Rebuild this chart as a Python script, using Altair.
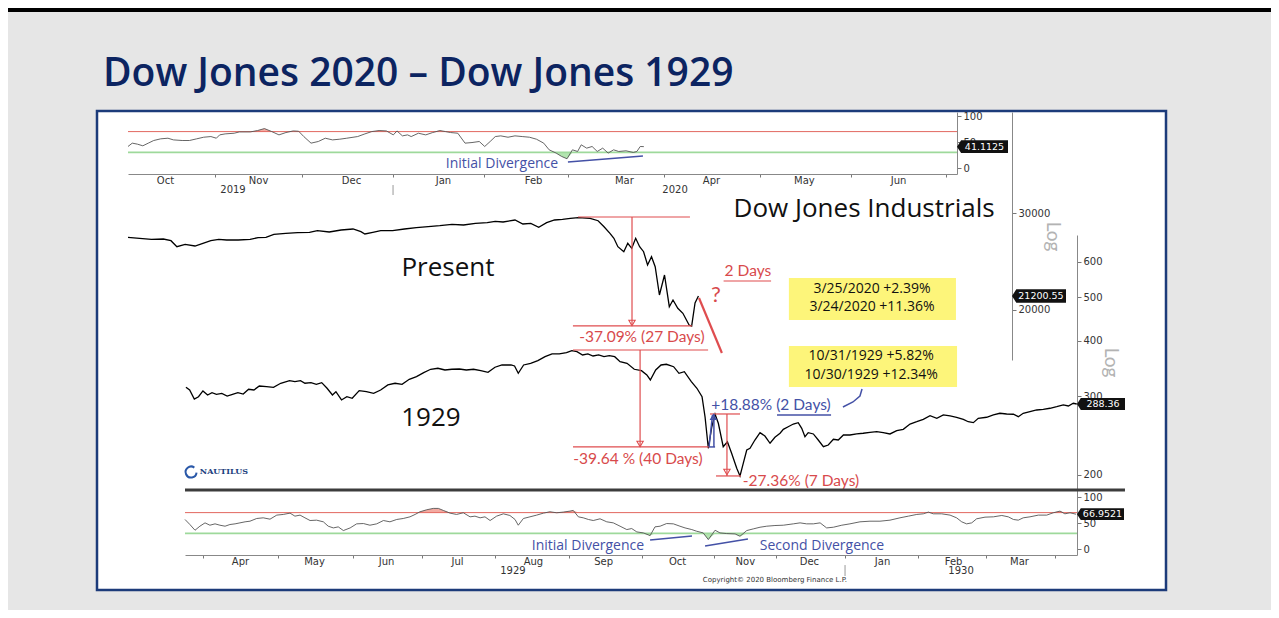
import altair as alt
import pandas as pd

TITLE = "Dow Jones 2020 \u2013 Dow Jones 1929"

# ---- time bases: every day count below is measured from these dates ----
BASE_OSC20 = "2019-10-04"   # top oscillator (2019-2020)
BASE_DOW20 = "2019-09-06"   # 2020 Dow line (overlaid)
BASE_1929 = "1929-03-22"    # 1929 Dow line and bottom oscillator

# ---- top oscillator 2019/2020 ----
rsi20_days = [0, 1.4, 3.1, 4.9, 6.7, 8.5, 10.8, 13.2, 15.0, 17.9,
              20.3, 22.7, 25.0, 27.4, 29.2, 30.3, 32.1, 35.1, 36.8, 40.4,
              42.8, 45.1, 47.5, 49.9, 52.2, 54.6, 56.4, 58.1, 60.5, 62.9,
              65.2, 67.6, 70.0, 72.3, 75.9, 78.3, 80.6, 83.0, 85.4, 87.7,
              88.9, 90.7, 92.4, 93.6, 96.0, 98.4, 100.7, 103.1, 104.9, 106.6,
              109.0, 111.4, 113.7, 116.1, 117.9, 119.7, 121.4, 123.2, 125.6, 127.9,
              130.3, 132.7, 135.0, 137.4, 139.2, 141.5, 143.3, 145.1, 146.9, 148.6,
              149.8, 151.6, 153.4, 155.1, 156.9, 158.7, 160.5, 162.2, 164.6, 167.0,
              168.2, 169.3, 170.5]
rsi20_vals = [41.4, 47.8, 45.9, 42.7, 47.8, 52.9, 56.1, 57.3, 54.1, 52.9,
              52.9, 56.1, 59.2, 60.5, 57.3, 63.7, 65.6, 66.9, 69.4, 69.4,
              72.0, 75.8, 70.1, 63.7, 68.2, 71.3, 70.7, 60.5, 47.8, 51.0,
              57.3, 54.1, 55.4, 57.3, 60.5, 65.6, 70.1, 72.0, 71.3, 63.7,
              71.3, 61.8, 63.7, 60.5, 66.9, 63.7, 68.2, 72.0, 70.1, 68.2,
              66.9, 47.8, 49.0, 51.0, 41.4, 51.0, 60.5, 61.8, 59.2, 61.8,
              60.5, 59.2, 55.4, 47.8, 35.0, 28.7, 22.3, 17.8, 35.0, 31.8,
              44.6, 38.2, 41.4, 31.8, 38.2, 28.7, 35.0, 31.8, 33.1, 29.9,
              31.8, 41.4, 41.1125]

# ---- Dow Jones 2019/2020 ----
dow20_days = [0, 4.1, 8.3, 12.5, 15.2, 17.3, 20.2, 23.7, 26.5, 29.3,
              32.1, 34.9, 39.0, 43.2, 46.0, 48.8, 51.6, 55.8, 60.0, 64.2,
              67.0, 71.2, 75.4, 79.6, 82.4, 83.8, 86.6, 89.4, 93.6, 97.8,
              102.0, 106.2, 110.3, 114.6, 118.7, 122.9, 127.1, 129.9, 132.7, 136.9,
              139.7, 142.5, 145.3, 148.1, 150.9, 153.7, 156.5, 159.3, 163.5, 166.3,
              168.4, 170.5, 171.9, 173.3, 175.4, 176.8, 178.2, 179.6, 181.0, 182.4,
              183.8, 185.2, 186.5, 188.0, 189.8, 191.5, 192.8, 194.5, 196.3, 198.5,
              199.4, 200.6, 201.8]
dow20_vals = [27100, 26985, 26873, 26907, 26717, 26055, 26316, 26131, 26427, 26717,
              26873, 26797, 26797, 26873, 27054, 27100, 27441, 27558, 27627, 27673,
              27858, 27708, 27939, 28058, 27741, 27477, 27673, 27858, 27858, 28058,
              28209, 28328, 28448, 28614, 28531, 28735, 28807, 28976, 28891, 29134,
              28650, 28735, 28258, 28807, 29134, 29221, 29343, 29416, 29343, 29049,
              28328, 27558, 26985, 26055, 25514, 26427, 25881, 26985, 26055, 25514,
              24135, 24987, 23964, 21288, 23145, 20271, 20847, 20136, 19719, 18777,
              18698, 20586, 21200.55]

# ---- Dow Jones 1929/1930 ----
dow29_days = [0.4, 2.0, 4.0, 5.8, 7.7, 9.7, 11.6, 13.5, 15.8, 18.1,
              20.4, 22.7, 25.0, 27.3, 29.6, 31.9, 35.0, 38.0, 41.1, 44.9,
              47.2, 49.6, 51.5, 54.1, 56.4, 58.7, 61.0, 63.3, 64.8, 67.2,
              69.5, 71.8, 74.8, 77.9, 81.0, 84.0, 87.1, 90.2, 93.2, 96.3,
              99.4, 102.5, 105.5, 108.6, 111.6, 114.6, 117.8, 120.8, 123.9, 127.0,
              130.1, 133.1, 136.1, 140.0, 141.5, 143.1, 145.4, 148.4, 151.5, 154.6,
              157.6, 160.7, 163.8, 166.1, 168.3, 170.7, 173.0, 175.2, 177.6, 179.9,
              182.2, 184.5, 186.8, 189.8, 192.9, 196.0, 198.3, 199.8, 202.1, 204.4,
              206.7, 209.8, 212.1, 214.4, 217.4, 219.8, 222.0, 223.3, 224.7, 226.2,
              227.6, 229.0, 231.1, 232.9, 234.7, 236.9, 238.3, 239.7, 241.2, 242.6,
              244.7, 246.9, 249.0, 251.2, 253.3, 255.5, 256.9, 259.0, 261.2, 263.3,
              264.8, 266.2, 267.6, 269.8, 271.9, 274.1, 276.2, 278.4, 280.5, 282.7,
              285.5, 288.4, 291.2, 294.1, 297.0, 299.8, 302.7, 305.6, 308.4, 311.3,
              314.2, 317.0, 319.9, 322.8, 325.6, 328.5, 331.3, 334.2, 336.3, 338.5,
              340.6, 344.2, 347.1, 349.9, 352.8, 355.7, 357.8, 359.9, 362.8, 365.7,
              368.5, 371.4, 374.3, 377.1, 379.3, 381.4, 382.9]
dow29_vals = [314.3, 310.0, 295.9, 299.4, 308.4, 302.1, 305.7, 303.2, 304.7, 300.5,
              303.2, 305.7, 303.6, 311.1, 310.0, 316.4, 315.3, 314.3, 320.9, 325.2,
              323.5, 325.2, 320.9, 321.9, 319.2, 321.9, 312.7, 302.1, 307.3, 294.4,
              299.4, 297.0, 308.9, 307.3, 304.7, 310.0, 318.1, 320.9, 319.2, 327.5,
              332.0, 338.9, 344.9, 346.7, 343.6, 344.9, 345.4, 343.6, 344.9, 342.4,
              339.6, 348.5, 352.6, 352.6, 350.8, 337.8, 352.6, 355.7, 360.5, 368.0,
              373.2, 373.2, 375.7, 379.6, 377.6, 371.3, 373.2, 369.3, 371.3, 368.0,
              369.9, 368.0, 358.6, 355.7, 344.9, 342.4, 334.9, 326.4, 343.6, 352.6,
              353.9, 349.5, 337.8, 340.6, 323.5, 312.7, 299.4, 269.7, 229.5, 256.5,
              273.5, 261.1, 231.4, 237.4, 223.7, 207.0, 199.0, 212.4, 227.5, 229.5,
              239.5, 248.7, 244.5, 235.5, 242.9, 248.0, 253.1, 256.5, 260.1, 261.9,
              254.4, 243.7, 248.7, 247.1, 239.5, 231.4, 233.4, 240.4, 239.5, 245.8,
              245.8, 247.1, 248.0, 249.2, 250.0, 248.7, 247.1, 251.3, 253.1, 260.1,
              263.2, 266.5, 271.5, 267.9, 272.5, 271.1, 269.3, 266.5, 263.2, 261.9,
              267.9, 269.3, 272.5, 274.9, 273.9, 273.5, 270.1, 274.9, 277.2, 279.6,
              280.6, 282.1, 284.4, 286.9, 285.4, 289.4, 288.36]

# ---- bottom oscillator 1929/1930 ----
rsi29_days = [0, 2.1, 4.3, 6.4, 8.6, 10.7, 12.9, 15.0, 17.2, 19.3,
              21.5, 23.6, 25.8, 27.9, 30.8, 33.6, 36.5, 39.4, 42.2, 45.1,
              47.2, 49.4, 51.5, 53.7, 56.5, 59.4, 61.5, 63.7, 65.8, 68.0,
              70.9, 73.7, 76.6, 79.4, 82.3, 85.2, 88.0, 90.9, 93.7, 96.6,
              98.8, 100.9, 103.8, 106.6, 108.8, 110.9, 113.8, 116.6, 119.5, 122.4,
              124.5, 126.7, 128.8, 131.0, 133.8, 136.7, 139.5, 141.7, 143.1, 145.3,
              148.1, 151.0, 153.9, 156.7, 159.6, 162.4, 165.3, 166.7, 168.9, 171.0,
              173.2, 175.3, 178.2, 181.1, 183.9, 186.8, 189.7, 191.8, 194.0, 196.8,
              199.7, 201.8, 204.0, 206.8, 209.7, 212.5, 214.7, 217.6, 219.7, 222.5,
              224.7, 227.6, 229.7, 232.6, 236.2, 238.3, 241.2, 244.0, 246.9, 249.8,
              253.3, 256.9, 261.2, 264.1, 266.9, 269.8, 272.7, 275.5, 278.4, 282.0,
              285.5, 289.8, 294.1, 298.4, 302.7, 307.0, 310.6, 314.2, 317.0, 319.2,
              321.3, 324.9, 328.5, 331.3, 333.5, 335.6, 337.8, 339.9, 343.5, 347.1,
              350.7, 353.5, 355.7, 357.8, 359.9, 362.8, 366.4, 370.0, 372.8, 375.7,
              377.8, 380.0, 382.6]
rsi29_vals = [56.8, 47.1, 36.1, 43.9, 50.3, 45.8, 48.4, 45.8, 43.9, 47.1,
              48.4, 50.3, 52.3, 53.5, 58.7, 60.0, 57.4, 65.2, 66.5, 69.0,
              63.2, 65.2, 60.0, 54.8, 55.5, 52.3, 43.9, 40.6, 42.6, 35.5,
              40.6, 48.4, 49.0, 45.8, 48.4, 54.8, 52.3, 56.8, 58.7, 61.9,
              66.5, 71.6, 75.5, 78.1, 78.1, 74.2, 69.0, 66.5, 69.7, 61.9,
              63.2, 60.0, 61.9, 54.8, 63.2, 67.7, 64.5, 56.8, 45.8, 58.7,
              61.9, 65.2, 69.0, 71.6, 69.7, 71.0, 72.9, 74.2, 61.9, 60.0,
              56.8, 54.8, 58.1, 52.3, 50.3, 43.9, 37.4, 39.4, 32.9, 31.0,
              25.8, 42.6, 43.9, 49.0, 48.4, 43.9, 40.6, 37.4, 34.2, 31.0,
              18.1, 36.1, 31.0, 29.7, 29.0, 24.5, 35.5, 38.7, 41.9, 43.9,
              45.2, 45.8, 48.4, 50.3, 48.4, 48.4, 50.3, 40.6, 41.9, 45.8,
              48.4, 52.3, 53.5, 53.5, 55.5, 60.0, 63.2, 66.5, 67.7, 71.0,
              67.7, 67.7, 65.2, 60.0, 52.3, 48.4, 50.3, 58.1, 61.3, 61.9,
              64.5, 61.9, 56.8, 55.5, 60.0, 61.9, 65.2, 65.2, 69.7, 72.9,
              67.7, 69.7, 66.9521]

# ---- axis tick / label positions (day counts) ----
osc20_tick_days = [28.8, 57.5, 87.6, 117.7, 145.4, 177.2, 208.9, 239.0, 270.4]
osc20_label_days = [12.2, 43.0, 73.7, 104.1, 133.9, 163.9, 192.7, 223.4, 254.5]
osc29_tick_days = [7.7, 39.9, 72.1, 101.8, 133.1, 164.9, 196.2, 227.1, 253.8,
                   283.4, 314.7, 343.9, 373.5]
osc29_label_days = [23.6, 55.4, 86.3, 116.8, 149.4, 179.5, 211.3, 240.4, 267.9,
                    299.3, 329.8, 358.1]
year20_labels = [(34.7, -41.5, "2019"), (180.8, -41.5, "2020")]
year29_labels = [(140.8, -43.0, "1929"), (333.2, -43.0, "1930")]
year20_sep = [(87.6, 87.6, -32.7, -51.9)]
year29_sep = [(283.4, 283.4, -30.8, -51.9)]

# ---- annotations (day count, value) ----
red20_segs = [(159.2, 198.8, 29502, 29502), (157.4, 199.5, 18700, 18700),
              (178.3, 178.3, 29502, 18750), (210.7, 227.5, 22572, 22572)]
red20_projection = [(202.0, 210.1, 21021, 16700)]
red20_heads = [(178.3, 18936)]
red20_texts = [(181.8, 17860, "-37.09% (27 Days)"), (219.3, 23535, "2 Days")]
red20_question = [(208.0, 21288, "?")]
big20_texts = [(113.2, 23832, "Present"), (260.4, 30506, "Dow Jones Industrials")]
box20 = [(233.8, 292.9, 22858, 19173)]
box20_texts = [(263.2, 21783, "3/25/2020 +2.39%"), (263.2, 20247, "3/24/2020 +11.36%")]

red29_segs = [(166.6, 224.6, 380.9, 380.9), (166.6, 225.0, 231.1, 231.1),
              (195.4, 195.4, 380.9, 231.1), (225.4, 238.3, 273.9, 273.9),
              (228.0, 238.7, 199.0, 199.0), (232.7, 232.7, 273.9, 199.0)]
red29_heads = [(195.4, 234.7), (232.7, 203.1)]
blue29_segs = [(227.1, 227.1, 231.1, 273.9), (225.0, 226.5, 231.1, 272.5),
               (225.0, 227.6, 231.1, 231.1), (254.2, 277.4, 272.5, 272.5)]
blue29_heads = [(226.9, 269.7)]
blue29_curve_days = [282.5, 286.8, 289.8, 290.7]
blue29_curve_vals = [283.9, 291.4, 300.5, 311.6]
red29_texts = [(194.5, 217.2, "-39.64 % (40 Days)"), (264.5, 193.9, "-27.36% (7 Days)")]
blue29_texts = [(251.6, 286.9, "+18.88% (2 Days)")]
big29_texts = [(105.6, 268.3, "1929")]
box29 = [(259.3, 331.5, 388.7, 314.8)]
box29_texts = [(294.6, 368.4, "10/31/1929 +5.82%"), (294.6, 334.9, "10/30/1929 +12.34%")]
logo29 = [(16.7, 203.1, "NAUTILUS")]
logo29_mark = [(2.6, 203.1)]

div20_segs = [(145.4, 170.2, 11.5, 23.1)]
div20_texts = [(123.6, 7.7, "Initial Divergence")]
div29_segs = [(199.7, 217.7, 17.3, 25.0), (223.3, 241.7, 5.8, 19.2)]
div29_texts = [(173.0, 5.8, "Initial Divergence"), (273.5, 5.8, "Second Divergence")]
copyright29 = [(253.3, -59.6, "Copyright\u00a9 2020 Bloomberg Finance L.P.")]
divider29 = [(0, 403.6, 113.5, 113.5)]

last_tags = [("A", 41.1125, "41.1125", 885.5, 51),
             ("B", 21200.55, "21200.55", 942, 54),
             ("C", 288.36, "288.36", 1004, 48),
             ("D", 66.9521, "66.9521", 1003.5, 47)]

# ---- styling ----
RED = "#df4d4f"
RED_TXT = "#d84a4c"
BLUE = "#4451a6"
NAVY = "#0c2461"
RED_FILL = "#f3aaa1"
GREEN_FILL = "#b3e5b0"
RED_LEVEL = "#e2675f"
GREEN_LEVEL = "#9ed99b"
TAG_PATH = "M-1,0L-0.84,-0.25L1,-0.25L1,0.25L-0.84,0.25Z"


def ms(base, d):
    return int((pd.Timestamp(base) + pd.Timedelta(days=float(d))).value // 1_000_000)


BASES = {"A": BASE_OSC20, "B": BASE_DOW20, "C": BASE_1929, "D": BASE_1929}
A_DOM = [ms(BASE_OSC20, 0), ms(BASE_OSC20, 274)]
B_DOM = [ms(BASE_DOW20, 0), ms(BASE_DOW20, 202)]
C_DOM = [ms(BASE_1929, 0), ms(BASE_1929, 383)]


def sx(k):
    if k == "A":
        return alt.Scale(domain=A_DOM, range=[31, 860], nice=False)
    if k == "B":
        return alt.Scale(domain=B_DOM, range=[31, 602], nice=False)
    return alt.Scale(domain=C_DOM, range=[88, 980], nice=False)


def sy(k):
    if k == "A":
        return alt.Scale(domain=[-11.5, 107.7], range=[63, 1], nice=False, zero=False)
    if k == "B":
        return alt.Scale(type="log", domain=[16218, 45780], range=[249, 1], nice=False)
    if k == "C":
        return alt.Scale(type="log", domain=[185.1, 689.1], range=[379, 124], nice=False)
    return alt.Scale(domain=[-11.5, 113.5], range=[444, 379], nice=False, zero=False)


def X(k, field="t", axis=None):
    return alt.X(f"{field}:T", scale=sx(k), axis=axis)


def Y(k, field="v", axis=None):
    return alt.Y(f"{field}:Q", scale=sy(k), axis=axis)


def pts(k, days, vals):
    return pd.DataFrame({"t": [ms(BASES[k], d) for d in days], "v": list(vals)})


def seg_df(k, rows):
    return pd.DataFrame({"t": [ms(BASES[k], r[0]) for r in rows],
                         "t2": [ms(BASES[k], r[1]) for r in rows],
                         "v": [r[2] for r in rows], "v2": [r[3] for r in rows]})


def txt_df(k, rows):
    return pd.DataFrame({"t": [ms(BASES[k], r[0]) for r in rows],
                         "v": [r[1] for r in rows], "s": [r[2] for r in rows]})


def seg_layer(k, rows, color, width=1.2):
    return alt.Chart(seg_df(k, rows)).mark_rule(color=color, strokeWidth=width).encode(
        x=X(k), x2="t2:T", y=Y(k), y2="v2:Q")


def text_layer(k, rows, **style):
    return alt.Chart(txt_df(k, rows)).mark_text(**style).encode(
        x=X(k), y=Y(k), text="s:N")


def point_layer(k, rows, **style):
    d = pd.DataFrame({"t": [ms(BASES[k], r[0]) for r in rows], "v": [r[1] for r in rows]})
    return alt.Chart(d).mark_point(**style).encode(x=X(k), y=Y(k))


def time_axis(k, offset, tick_days, label_days):
    ticks = alt.Axis(orient="bottom", offset=offset, values=[ms(BASES[k], d) for d in tick_days],
                     labels=False, ticks=True, tickSize=3, tickColor="#777", domain=True,
                     domainColor="#888", grid=False, title=None)
    labels = alt.Axis(orient="bottom", offset=offset, values=[ms(BASES[k], d) for d in label_days],
                      format="%b", labels=True, ticks=False, tickSize=0, domain=False, grid=False,
                      title=None, labelFont="DejaVu Sans", labelFontSize=10, labelColor="#333",
                      labelPadding=1, labelOverlap=False, labelFlush=False)
    return ticks, labels


def value_axis(offset, values, title=None, tx=0, ty=0):
    kw = dict(orient="right", offset=offset, values=values, tickSize=4, tickColor="#777",
              domainColor="#888", grid=False, labelFont="DejaVu Sans", labelFontSize=10,
              labelColor="#333", labelPadding=2, format="d")
    if title:
        kw.update(title=title, titleAngle=90, titleX=tx, titleY=ty, titleColor="#b3b3b3",
                  titleFont="Lato", titleFontSize=19, titleFontWeight="normal",
                  titleAlign="center", titleBaseline="middle")
    else:
        kw.update(title=None)
    return alt.Axis(**kw)


layers = []

# ---- page decorations ----
layers.append(alt.Chart(pd.DataFrame({"s": [TITLE]})).mark_text(
    font="Open Sans", fontSize=39, fontWeight=600, color=NAVY, align="left",
    baseline="alphabetic").encode(x=alt.value(6), y=alt.value(-25), text="s:N"))
layers.append(alt.Chart(pd.DataFrame({"k": [0]})).mark_rect(color="#000000").encode(
    x=alt.value(-89), x2=alt.value(1174), y=alt.value(-103), y2=alt.value(-99)))

# ---- A: top oscillator ----
axA_ticks, axA_labels = time_axis("A", -416, osc20_tick_days, osc20_label_days)
rsiA = pts("A", rsi20_days, rsi20_vals)
layers.append(alt.Chart(rsiA).transform_calculate(hi="max(datum.v, 70)", b="70").mark_area(
    color=RED_FILL).encode(x=X("A"), y=Y("A", "hi"), y2="b:Q"))
layers.append(alt.Chart(rsiA).transform_calculate(lo="min(datum.v, 30)", b="30").mark_area(
    color=GREEN_FILL).encode(x=X("A"), y=Y("A", "lo"), y2="b:Q"))
layers.append(alt.Chart(pd.DataFrame({"t": [A_DOM[0]], "t2": [A_DOM[1]], "v": [70]})).mark_rule(
    color=RED_LEVEL, strokeWidth=1).encode(x=X("A", axis=axA_labels), x2="t2:T", y=Y("A")))
layers.append(alt.Chart(pd.DataFrame({"t": [A_DOM[0]], "t2": [A_DOM[1]], "v": [30]})).mark_rule(
    color=GREEN_LEVEL, strokeWidth=1.6).encode(x=X("A"), x2="t2:T", y=Y("A")))
layers.append(alt.Chart(rsiA).mark_line(color="#555555", strokeWidth=0.9).encode(
    x=X("A", axis=axA_ticks), y=Y("A", axis=value_axis(-209, [0, 50, 100]))))
layers.append(seg_layer("A", div20_segs, BLUE, 1.6))
layers.append(text_layer("A", div20_texts, font="Open Sans", fontSize=14, color=BLUE,
                         align="center", baseline="middle"))
layers.append(text_layer("A", year20_labels, font="DejaVu Sans", fontSize=10, color="#333",
                         align="center", baseline="middle"))
layers.append(seg_layer("A", year20_sep, "#999999", 1))

# ---- B: 2020 Dow ----
dowB = pts("B", dow20_days, dow20_vals)
layers.append(alt.Chart(seg_df("B", box20)).mark_rect(color="#fdf57a").encode(
    x=X("B"), x2="t2:T", y=Y("B"), y2="v2:Q"))
layers.append(alt.Chart(dowB).mark_line(color="#000000", strokeWidth=1.3).encode(
    x=X("B"), y=Y("B", axis=value_axis(-154, [20000, 30000], "Log", 40, 125))))
layers.append(seg_layer("B", red20_segs, RED, 1.2))
layers.append(seg_layer("B", red20_projection, RED, 2.2))
layers.append(point_layer("B", red20_heads, shape="triangle-down", filled=False, color=RED,
                          size=40, strokeWidth=1.1, opacity=1))
layers.append(text_layer("B", red20_texts, font="Lato", fontSize=15.5, color=RED_TXT,
                         align="center", baseline="middle"))
layers.append(text_layer("B", red20_question, font="Lato", fontSize=22, color=RED_TXT,
                         align="center", baseline="middle"))
layers.append(text_layer("B", big20_texts, font="Open Sans", fontSize=26, color="#111111",
                         align="center", baseline="middle"))
layers.append(text_layer("B", box20_texts, font="Open Sans", fontSize=14, color="#111111",
                         align="center", baseline="middle"))

# ---- C: 1929 Dow ----
dowC = pts("C", dow29_days, dow29_vals)
layers.append(alt.Chart(seg_df("C", box29)).mark_rect(color="#fdf57a").encode(
    x=X("C"), x2="t2:T", y=Y("C"), y2="v2:Q"))
layers.append(alt.Chart(dowC).mark_line(color="#000000", strokeWidth=1.3).encode(
    x=X("C"), y=Y("C", axis=value_axis(-89, [200, 300, 400, 500, 600], "Log", 33, 251))))
layers.append(seg_layer("C", red29_segs, RED, 1.2))
layers.append(seg_layer("C", blue29_segs, BLUE, 1.5))
layers.append(alt.Chart(pd.DataFrame({"t": [ms(BASE_1929, d) for d in blue29_curve_days],
                                      "v": blue29_curve_vals})).mark_line(
    color=BLUE, strokeWidth=1.5).encode(x=X("C"), y=Y("C")))
layers.append(point_layer("C", red29_heads, shape="triangle-down", filled=False, color=RED,
                          size=40, strokeWidth=1.1, opacity=1))
layers.append(point_layer("C", blue29_heads, shape="triangle-up", filled=False, color=BLUE,
                          size=30, strokeWidth=1.3, opacity=1))
layers.append(text_layer("C", red29_texts, font="Lato", fontSize=15.5, color=RED_TXT,
                         align="center", baseline="middle"))
layers.append(text_layer("C", blue29_texts, font="Lato", fontSize=15.5, color=BLUE,
                         align="center", baseline="middle"))
layers.append(text_layer("C", big29_texts, font="Open Sans", fontSize=26, color="#111111",
                         align="center", baseline="middle"))
layers.append(text_layer("C", box29_texts, font="Open Sans", fontSize=14, color="#111111",
                         align="center", baseline="middle"))
layers.append(text_layer("C", logo29, font="DejaVu Serif", fontSize=8, fontWeight="bold",
                         color="#1d3f7e", align="center", baseline="middle"))
layers.append(point_layer("C", logo29_mark, shape="M0.6,-0.8A1,1 0 1,0 1,0.1", filled=False,
                          color="#2a58a8", size=120, strokeWidth=2, opacity=1))

# ---- D: bottom oscillator ----
axD_ticks, axD_labels = time_axis("D", -35, osc29_tick_days, osc29_label_days)
rsiD = pts("D", rsi29_days, rsi29_vals)
layers.append(alt.Chart(rsiD).transform_calculate(hi="max(datum.v, 70)", b="70").mark_area(
    color=RED_FILL).encode(x=X("D"), y=Y("D", "hi"), y2="b:Q"))
layers.append(alt.Chart(rsiD).transform_calculate(lo="min(datum.v, 30)", b="30").mark_area(
    color=GREEN_FILL).encode(x=X("D"), y=Y("D", "lo"), y2="b:Q"))
layers.append(alt.Chart(pd.DataFrame({"t": [C_DOM[0]], "t2": [C_DOM[1]], "v": [70]})).mark_rule(
    color=RED_LEVEL, strokeWidth=1).encode(x=X("D", axis=axD_labels), x2="t2:T", y=Y("D")))
layers.append(alt.Chart(pd.DataFrame({"t": [C_DOM[0]], "t2": [C_DOM[1]], "v": [30]})).mark_rule(
    color=GREEN_LEVEL, strokeWidth=1.6).encode(x=X("D"), x2="t2:T", y=Y("D")))
layers.append(alt.Chart(rsiD).mark_line(color="#555555", strokeWidth=0.9).encode(
    x=X("D", axis=axD_ticks), y=Y("D", axis=value_axis(-89, [0, 50, 100]))))
layers.append(seg_layer("D", div29_segs, BLUE, 1.6))
layers.append(text_layer("D", div29_texts, font="Open Sans", fontSize=14, color=BLUE,
                         align="center", baseline="middle"))
layers.append(text_layer("D", year29_labels, font="DejaVu Sans", fontSize=10, color="#333",
                         align="center", baseline="middle"))
layers.append(seg_layer("D", year29_sep, "#999999", 1))
layers.append(text_layer("D", copyright29, font="DejaVu Sans", fontSize=7, color="#333",
                         align="center", baseline="middle"))
layers.append(seg_layer("D", divider29, "#3c3c3c", 3))

# ---- last-value tags ----
for k, val, lab, xc, w in last_tags:
    d = pd.DataFrame({"v": [val], "s": [lab]})
    layers.append(alt.Chart(d).mark_point(shape=TAG_PATH, filled=True, color="#111111",
                                          size=w * w, opacity=1, strokeWidth=0).encode(
        x=alt.value(xc), y=Y(k)))
    layers.append(alt.Chart(d).mark_text(font="DejaVu Sans", fontSize=9.5, color="white",
                                         align="center", baseline="middle").encode(
        x=alt.value(xc + 2), y=Y(k), text="s:N"))

chart = alt.layer(*layers).resolve_scale(x="independent", y="independent").properties(
    width=1069, height=479,
    padding={"left": 89, "top": 103, "right": 105, "bottom": 20},
    autosize=alt.AutoSizeParams(type="none"),
    background="#e6e6e6",
).configure_view(fill="white", stroke="#1c3b7a", strokeWidth=2.5)

chart.save("out.html", embed_options={"renderer": "svg", "actions": False})
